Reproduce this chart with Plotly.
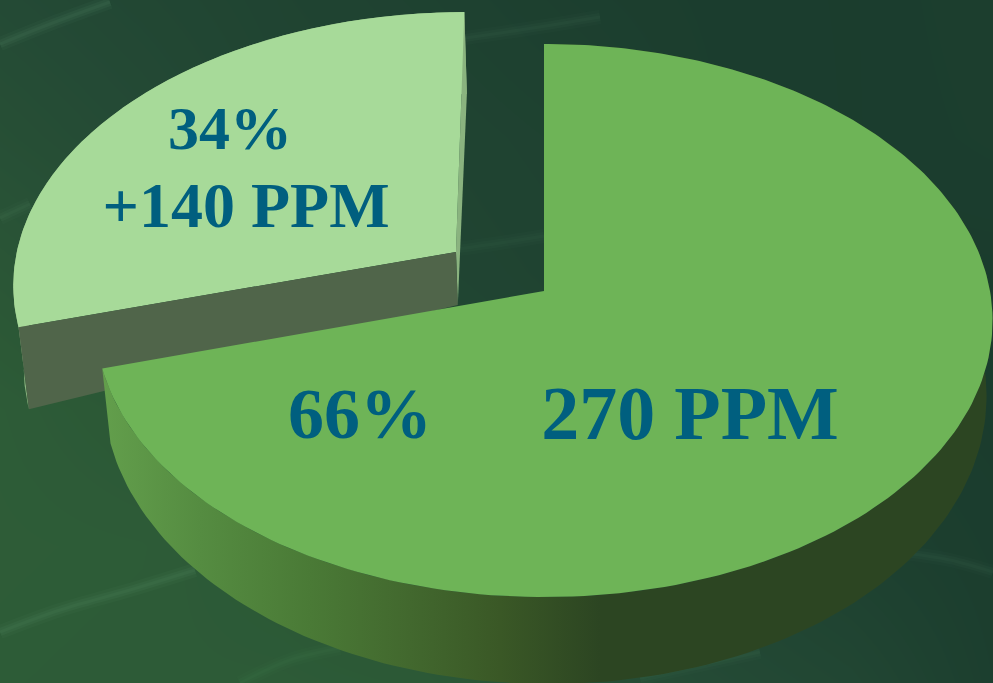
import numpy as np
import plotly.graph_objects as go

# Chart content
categories = ["Base", "Increase"]
ppm_values = [270, 140]
value_prefix = ["", "+"]

WIDTH, HEIGHT = 993, 683

# Camera: the pie's disc plane projected with perspective onto the page
CENTER_X, CENTER_Y = 544.0, 291.0
SCALE_X, SCALE_Y = 446.0, 273.4
PERSPECTIVE = 0.1067
FORESHORTEN_DEG = 20.2       # angular distortion from the tilted view
VANISH_X, VANISH_Y = 620.0, 5060.0
EXPLODE_X, EXPLODE_Y = -0.2004, 0.1448

TOP_COLORS = ["#6EB457", "#A7DA99"]
CUT_FACE_COLOR = "#50654A"
EDGE_COLOR = "#8AB37F"
LABEL_COLOR = "#005F7F"
LABEL_FONT = "Liberation Serif"
WALL_STOPS = [[0.0, "#639F4C"], [0.2, "#558C41"], [0.42, "#4A7A36"],
              [0.62, "#42682E"], [0.8, "#3A5826"], [1.0, "#2C4522"]]
BACKDROP_STOPS = [[0.0, "#193A2C"], [0.5, "#244A35"], [1.0, "#2F5F37"]]
BACKDROP_LEVELS = [
    [0.50, 0.40, 0.30, 0.24, 0.16, 0.10, 0.08, 0.14],
    [0.62, 0.50, 0.34, 0.30, 0.24, 0.12, 0.08, 0.12],
    [0.78, 0.64, 0.42, 0.34, 0.28, 0.16, 0.06, 0.06],
    [0.92, 0.82, 0.58, 0.42, 0.34, 0.20, 0.10, 0.06],
    [0.94, 0.92, 0.82, 0.66, 0.50, 0.34, 0.20, 0.10],
    [0.92, 0.90, 0.90, 0.86, 0.66, 0.50, 0.38, 0.14],
]


def project(x, y):
    w = 1 + PERSPECTIVE * np.asarray(y)
    return CENTER_X + SCALE_X * np.asarray(x) / w, CENTER_Y - SCALE_Y * np.asarray(y) / w


def lower(sx, sy, depth):
    """Move projected points down by depth, converging on the vertical vanishing point."""
    t = depth / (VANISH_Y - sy)
    return sx + (VANISH_X - sx) * t, sy + depth


def disc_angle(phi):
    return phi - np.radians(FORESHORTEN_DEG) * np.sin(phi)


def rim(phi_start, phi_end, dx=0.0, dy=0.0, n=240):
    phi = disc_angle(np.linspace(phi_start, phi_end, n))
    return np.sin(phi) + dx, np.cos(phi) + dy


def polygon(xs, ys, color=None, gradient=None):
    trace = dict(x=xs, y=ys, mode="lines", fill="toself", hoverinfo="skip",
                 showlegend=False, line=dict(width=0))
    if gradient:
        trace["fillgradient"] = gradient
    else:
        trace["fillcolor"] = color
    return go.Scatter(**trace)


total = sum(ppm_values)
sweep = 2 * np.pi * ppm_values[0] / total
shares = [round(100 * v / total) for v in ppm_values]

fig = go.Figure()

# Backdrop
fig.add_trace(go.Heatmap(
    z=BACKDROP_LEVELS,
    x=np.linspace(0, WIDTH, len(BACKDROP_LEVELS[0])),
    y=np.linspace(0, HEIGHT, len(BACKDROP_LEVELS)),
    colorscale=BACKDROP_STOPS, zmin=0, zmax=1, zsmooth="best",
    showscale=False, hoverinfo="skip",
))
STREAKS = [
    ([0, 60, 130, 195], [632, 610, 590, 570], "#4A8058", 0.30),
    ([465, 520, 600], [38, 30, 17], "#4A7A5C", 0.14),
    ([458, 500, 544], [249, 243, 236], "#4A7A5C", 0.12),
    ([0, 30], [218, 204], "#5A8A68", 0.14),
    ([0, 50, 110], [44, 24, 2], "#4A7A5C", 0.28),
    ([240, 290, 340], [683, 660, 648], "#3F7A4A", 0.20),
    ([905, 950, 993], [553, 560, 572], "#40705A", 0.16),
    ([640, 700, 760], [678, 665, 652], "#3F7050", 0.20),
]
# Soft falloff: several widths stacked at low opacity
for xs, ys, color, alpha in STREAKS:
    for width, fade in ((14, 0.35), (8, 0.55), (3, 0.6)):
        fig.add_trace(go.Scatter(x=xs, y=ys, mode="lines", hoverinfo="skip", showlegend=False,
                                 opacity=alpha * fade, line=dict(color=color, width=width, shape="spline")))

# Exploded slice
sx_apex, sy_apex = project(EXPLODE_X, EXPLODE_Y)
rx, ry = rim(sweep, 2 * np.pi, EXPLODE_X, EXPLODE_Y)
sx, sy = project(rx, ry)
APEX_DEPTH, RIM_DEPTH = 53.0, 82.0
lx, ly = lower(sx, sy, RIM_DEPTH)
lax, lay = lower(sx_apex, sy_apex, APEX_DEPTH)

fig.add_trace(polygon(np.r_[sx, lx[::-1]], np.r_[sy, ly[::-1]], EDGE_COLOR))
fig.add_trace(polygon([sx[-1], lx[-1], lax, sx_apex], [sy[-1], ly[-1], lay, sy_apex], EDGE_COLOR))
fig.add_trace(polygon(np.r_[sx_apex, sx], np.r_[sy_apex, sy], TOP_COLORS[1]))
fig.add_trace(polygon([sx[0], lx[0], lax, sx_apex], [sy[0], ly[0], lay, sy_apex], CUT_FACE_COLOR))

# Main slice
rx, ry = rim(0.0, sweep)
sx, sy = project(rx, ry)
lx, ly = lower(sx, sy, 73.0 - 14.0 * ry + 2.0 * rx)
fig.add_trace(polygon(np.r_[sx, lx[::-1]], np.r_[sy, ly[::-1]],
                      gradient=dict(type="horizontal", colorscale=WALL_STOPS, start=100, stop=600)))
fig.add_trace(polygon(np.r_[CENTER_X, sx], np.r_[CENTER_Y, sy], TOP_COLORS[0]))

# Labels
LABELS = [
    (360, 420, f"{shares[0]}%", 72),
    (690, 420, f"{value_prefix[0]}{ppm_values[0]} PPM", 76),
    (230, 133, f"{shares[1]}%", 62),
    (246, 211, f"{value_prefix[1]}{ppm_values[1]} PPM", 64),
]
for x, y, text, size in LABELS:
    fig.add_trace(go.Scatter(x=[x], y=[y], mode="text", text=[f"<b>{text}</b>"],
                             textposition="middle center", hoverinfo="skip", showlegend=False,
                             textfont=dict(family=LABEL_FONT, size=size, color=LABEL_COLOR)))

fig.update_layout(
    width=WIDTH, height=HEIGHT, margin=dict(l=0, r=0, t=0, b=0),
    paper_bgcolor="#234A35", plot_bgcolor="#234A35",
    xaxis=dict(range=[0, WIDTH], visible=False, fixedrange=True),
    yaxis=dict(range=[HEIGHT, 0], visible=False, fixedrange=True),
)
fig.write_html("out.html", config=dict(displayModeBar=False))
